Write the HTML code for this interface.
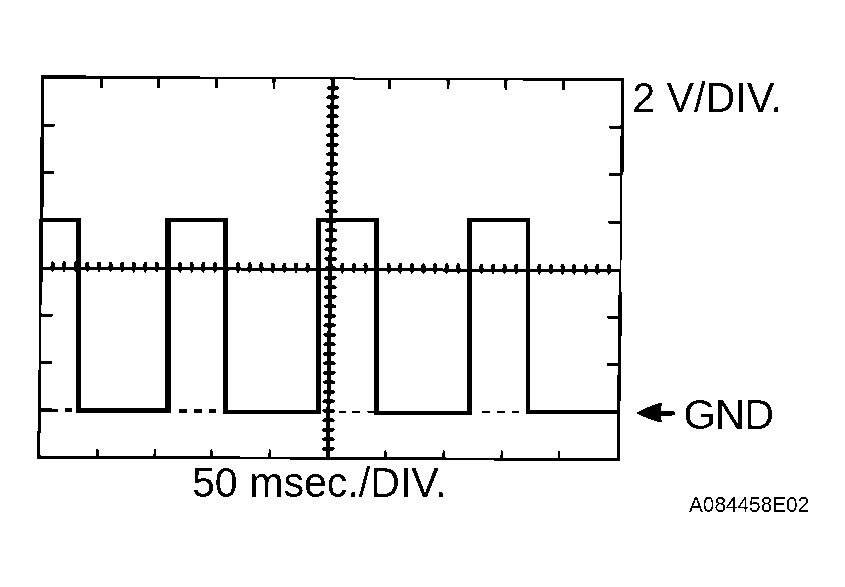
<!DOCTYPE html>
<html><head><meta charset="utf-8">
<style>
html,body{margin:0;padding:0;background:#fff;}
body{width:845px;height:587px;overflow:hidden;position:relative;font-family:"Liberation Sans",sans-serif;color:#000;}
svg{position:absolute;left:0;top:0;will-change:transform;}
.t{position:absolute;white-space:nowrap;line-height:1;}
</style></head><body>
<svg width="845" height="587" viewBox="0 0 845 587">
<defs><filter id="bw" x="0" y="0" width="845" height="587" filterUnits="userSpaceOnUse" color-interpolation-filters="sRGB"><feComponentTransfer><feFuncA type="discrete" tableValues="0 1"/></feComponentTransfer></filter></defs>
<g filter="url(#bw)">
<g transform="matrix(1 0.0046 -0.0105 1 43 77)">
<path d="M-1.5 -1.75 H85 L180 -1.0 H440 L500 -1.4 H581.0 V1.45 H500 L440 1.1 H180 L85 1.6 H-1.5 z" fill="#000"/>
<line x1="-1.4" y1="380.0" x2="581.0" y2="380.0" stroke="#000" stroke-width="2.8"/>
<path d="M-1.7 -1.5 V55 L-2.0 65 V210 L-1.25 216 V290 L-1.6 296 L-1.8 360 L-2.0 381.4 H1.25 V296 L0.9 290 V216 L1.65 210 L2.05 65 L1.3 55 V-1.5 z" fill="#000"/>
<path d="M578.1 0 V90 L578.5 96 V210 L577.6 216 V300 L577.2 306 V316 L577.7 322 V380.0 H580.8 V322 L581.2 316 V216 L580.4 210 V96 L581.95 90 L581.0 0 z" fill="#000"/>
<path d="M56.80 0 h3.4 l-0.4 10.5 h-2.4 z" fill="#000"/>
<path d="M56.70 380.0 h3.2 l-0.6 -8.6 h-1.8 z" fill="#000"/>
<path d="M113.70 0 h3.4 l-0.4 10.5 h-2.4 z" fill="#000"/>
<path d="M114.10 380.0 h3.2 l-0.6 -8.6 h-1.8 z" fill="#000"/>
<path d="M171.70 0 h3.4 l-0.4 10.5 h-2.4 z" fill="#000"/>
<path d="M170.70 380.0 h3.2 l-0.6 -8.6 h-1.8 z" fill="#000"/>
<path d="M229.30 0 h3.4 l-0.4 10.5 h-2.4 z" fill="#000"/>
<path d="M229.00 380.0 h3.2 l-0.6 -8.6 h-1.8 z" fill="#000"/>
<path d="M345.00 0 h3.4 l-0.4 10.5 h-2.4 z" fill="#000"/>
<path d="M344.70 380.0 h3.2 l-0.6 -8.6 h-1.8 z" fill="#000"/>
<path d="M403.40 0 h3.4 l-0.4 10.5 h-2.4 z" fill="#000"/>
<path d="M402.90 380.0 h3.2 l-0.6 -8.6 h-1.8 z" fill="#000"/>
<path d="M461.10 0 h3.4 l-0.4 10.5 h-2.4 z" fill="#000"/>
<path d="M461.10 380.0 h3.2 l-0.6 -8.6 h-1.8 z" fill="#000"/>
<path d="M518.90 0 h3.4 l-0.4 10.5 h-2.4 z" fill="#000"/>
<path d="M518.40 380.0 h3.2 l-0.6 -8.6 h-1.8 z" fill="#000"/>
<line x1="0" y1="48.10" x2="12" y2="48.10" stroke="#000" stroke-width="2.6"/>
<line x1="579.5" y1="47.50" x2="567.0" y2="47.50" stroke="#000" stroke-width="2.6"/>
<line x1="0" y1="95.60" x2="12" y2="95.60" stroke="#000" stroke-width="2.6"/>
<line x1="579.5" y1="95.00" x2="567.0" y2="95.00" stroke="#000" stroke-width="2.6"/>
<line x1="0" y1="143.10" x2="12" y2="143.10" stroke="#000" stroke-width="2.6"/>
<line x1="579.5" y1="142.50" x2="567.0" y2="142.50" stroke="#000" stroke-width="2.6"/>
<line x1="0" y1="238.10" x2="12" y2="238.10" stroke="#000" stroke-width="2.6"/>
<line x1="579.5" y1="237.50" x2="567.0" y2="237.50" stroke="#000" stroke-width="2.6"/>
<line x1="0" y1="285.60" x2="12" y2="285.60" stroke="#000" stroke-width="2.6"/>
<line x1="579.5" y1="285.00" x2="567.0" y2="285.00" stroke="#000" stroke-width="2.6"/>
<line x1="0" y1="333.10" x2="12" y2="333.10" stroke="#000" stroke-width="2.6"/>
<line x1="579.5" y1="332.50" x2="567.0" y2="332.50" stroke="#000" stroke-width="2.6"/>
<line x1="289.75" y1="0" x2="288.75" y2="380.0" stroke="#000" stroke-width="3.8"/>
<line x1="0" y1="190.90" x2="579.5" y2="191.30" stroke="#000" stroke-width="3"/>
<path d="M283.33 9.50 l1.9 -1.9 h9.6 l1.9 1.9 l-1.9 1.9 h-9.6 z" fill="#000"/>
<path d="M283.30 19.00 l1.9 -1.9 h9.6 l1.9 1.9 l-1.9 1.9 h-9.6 z" fill="#000"/>
<path d="M283.28 28.50 l1.9 -1.9 h9.6 l1.9 1.9 l-1.9 1.9 h-9.6 z" fill="#000"/>
<path d="M283.25 38.00 l1.9 -1.9 h9.6 l1.9 1.9 l-1.9 1.9 h-9.6 z" fill="#000"/>
<path d="M283.23 47.50 l1.9 -1.9 h9.6 l1.9 1.9 l-1.9 1.9 h-9.6 z" fill="#000"/>
<path d="M283.20 57.00 l1.9 -1.9 h9.6 l1.9 1.9 l-1.9 1.9 h-9.6 z" fill="#000"/>
<path d="M283.18 66.50 l1.9 -1.9 h9.6 l1.9 1.9 l-1.9 1.9 h-9.6 z" fill="#000"/>
<path d="M283.15 76.00 l1.9 -1.9 h9.6 l1.9 1.9 l-1.9 1.9 h-9.6 z" fill="#000"/>
<path d="M283.12 85.50 l1.9 -1.9 h9.6 l1.9 1.9 l-1.9 1.9 h-9.6 z" fill="#000"/>
<path d="M283.10 95.00 l1.9 -1.9 h9.6 l1.9 1.9 l-1.9 1.9 h-9.6 z" fill="#000"/>
<path d="M283.08 104.50 l1.9 -1.9 h9.6 l1.9 1.9 l-1.9 1.9 h-9.6 z" fill="#000"/>
<path d="M283.05 114.00 l1.9 -1.9 h9.6 l1.9 1.9 l-1.9 1.9 h-9.6 z" fill="#000"/>
<path d="M283.03 123.50 l1.9 -1.9 h9.6 l1.9 1.9 l-1.9 1.9 h-9.6 z" fill="#000"/>
<path d="M283.00 133.00 l1.9 -1.9 h9.6 l1.9 1.9 l-1.9 1.9 h-9.6 z" fill="#000"/>
<path d="M282.98 142.50 l1.9 -1.9 h9.6 l1.9 1.9 l-1.9 1.9 h-9.6 z" fill="#000"/>
<path d="M282.95 152.00 l1.9 -1.9 h9.6 l1.9 1.9 l-1.9 1.9 h-9.6 z" fill="#000"/>
<path d="M282.93 161.50 l1.9 -1.9 h9.6 l1.9 1.9 l-1.9 1.9 h-9.6 z" fill="#000"/>
<path d="M282.90 171.00 l1.9 -1.9 h9.6 l1.9 1.9 l-1.9 1.9 h-9.6 z" fill="#000"/>
<path d="M282.88 180.50 l1.9 -1.9 h9.6 l1.9 1.9 l-1.9 1.9 h-9.6 z" fill="#000"/>
<path d="M282.85 190.00 l1.9 -1.9 h9.6 l1.9 1.9 l-1.9 1.9 h-9.6 z" fill="#000"/>
<path d="M282.83 199.50 l1.9 -1.9 h9.6 l1.9 1.9 l-1.9 1.9 h-9.6 z" fill="#000"/>
<path d="M282.80 209.00 l1.9 -1.9 h9.6 l1.9 1.9 l-1.9 1.9 h-9.6 z" fill="#000"/>
<path d="M282.78 218.50 l1.9 -1.9 h9.6 l1.9 1.9 l-1.9 1.9 h-9.6 z" fill="#000"/>
<path d="M282.75 228.00 l1.9 -1.9 h9.6 l1.9 1.9 l-1.9 1.9 h-9.6 z" fill="#000"/>
<path d="M282.73 237.50 l1.9 -1.9 h9.6 l1.9 1.9 l-1.9 1.9 h-9.6 z" fill="#000"/>
<path d="M282.70 247.00 l1.9 -1.9 h9.6 l1.9 1.9 l-1.9 1.9 h-9.6 z" fill="#000"/>
<path d="M282.68 256.50 l1.9 -1.9 h9.6 l1.9 1.9 l-1.9 1.9 h-9.6 z" fill="#000"/>
<path d="M282.65 266.00 l1.9 -1.9 h9.6 l1.9 1.9 l-1.9 1.9 h-9.6 z" fill="#000"/>
<path d="M282.62 275.50 l1.9 -1.9 h9.6 l1.9 1.9 l-1.9 1.9 h-9.6 z" fill="#000"/>
<path d="M282.60 285.00 l1.9 -1.9 h9.6 l1.9 1.9 l-1.9 1.9 h-9.6 z" fill="#000"/>
<path d="M282.58 294.50 l1.9 -1.9 h9.6 l1.9 1.9 l-1.9 1.9 h-9.6 z" fill="#000"/>
<path d="M282.55 304.00 l1.9 -1.9 h9.6 l1.9 1.9 l-1.9 1.9 h-9.6 z" fill="#000"/>
<path d="M282.53 313.50 l1.9 -1.9 h9.6 l1.9 1.9 l-1.9 1.9 h-9.6 z" fill="#000"/>
<path d="M282.50 323.00 l1.9 -1.9 h9.6 l1.9 1.9 l-1.9 1.9 h-9.6 z" fill="#000"/>
<path d="M282.48 332.50 l1.9 -1.9 h9.6 l1.9 1.9 l-1.9 1.9 h-9.6 z" fill="#000"/>
<path d="M282.45 342.00 l1.9 -1.9 h9.6 l1.9 1.9 l-1.9 1.9 h-9.6 z" fill="#000"/>
<path d="M282.43 351.50 l1.9 -1.9 h9.6 l1.9 1.9 l-1.9 1.9 h-9.6 z" fill="#000"/>
<path d="M282.40 361.00 l1.9 -1.9 h9.6 l1.9 1.9 l-1.9 1.9 h-9.6 z" fill="#000"/>
<path d="M282.38 370.50 l1.9 -1.9 h9.6 l1.9 1.9 l-1.9 1.9 h-9.6 z" fill="#000"/>
<path d="M10.29 184.41 h2.6 l0.7 2.2 v5.6 l-2 3.2 l-2 -3.2 v-5.6 z" fill="#000"/>
<path d="M21.88 184.42 h2.6 l0.7 2.2 v5.6 l-2 3.2 l-2 -3.2 v-5.6 z" fill="#000"/>
<path d="M33.47 184.42 h2.6 l0.7 2.2 v5.6 l-2 3.2 l-2 -3.2 v-5.6 z" fill="#000"/>
<path d="M45.06 184.43 h2.6 l0.7 2.2 v5.6 l-2 3.2 l-2 -3.2 v-5.6 z" fill="#000"/>
<path d="M56.65 184.44 h2.6 l0.7 2.2 v5.6 l-2 3.2 l-2 -3.2 v-5.6 z" fill="#000"/>
<path d="M68.24 184.45 h2.6 l0.7 2.2 v5.6 l-2 3.2 l-2 -3.2 v-5.6 z" fill="#000"/>
<path d="M79.83 184.46 h2.6 l0.7 2.2 v5.6 l-2 3.2 l-2 -3.2 v-5.6 z" fill="#000"/>
<path d="M91.42 184.46 h2.6 l0.7 2.2 v5.6 l-2 3.2 l-2 -3.2 v-5.6 z" fill="#000"/>
<path d="M103.01 184.47 h2.6 l0.7 2.2 v5.6 l-2 3.2 l-2 -3.2 v-5.6 z" fill="#000"/>
<path d="M114.60 184.48 h2.6 l0.7 2.2 v5.6 l-2 3.2 l-2 -3.2 v-5.6 z" fill="#000"/>
<path d="M126.19 184.49 h2.6 l0.7 2.2 v5.6 l-2 3.2 l-2 -3.2 v-5.6 z" fill="#000"/>
<path d="M137.78 184.50 h2.6 l0.7 2.2 v5.6 l-2 3.2 l-2 -3.2 v-5.6 z" fill="#000"/>
<path d="M149.37 184.50 h2.6 l0.7 2.2 v5.6 l-2 3.2 l-2 -3.2 v-5.6 z" fill="#000"/>
<path d="M160.96 184.51 h2.6 l0.7 2.2 v5.6 l-2 3.2 l-2 -3.2 v-5.6 z" fill="#000"/>
<path d="M172.55 184.52 h2.6 l0.7 2.2 v5.6 l-2 3.2 l-2 -3.2 v-5.6 z" fill="#000"/>
<path d="M184.14 184.53 h2.6 l0.7 2.2 v5.6 l-2 3.2 l-2 -3.2 v-5.6 z" fill="#000"/>
<path d="M195.73 184.54 h2.6 l0.7 2.2 v5.6 l-2 3.2 l-2 -3.2 v-5.6 z" fill="#000"/>
<path d="M207.32 184.54 h2.6 l0.7 2.2 v5.6 l-2 3.2 l-2 -3.2 v-5.6 z" fill="#000"/>
<path d="M218.91 184.55 h2.6 l0.7 2.2 v5.6 l-2 3.2 l-2 -3.2 v-5.6 z" fill="#000"/>
<path d="M230.50 184.56 h2.6 l0.7 2.2 v5.6 l-2 3.2 l-2 -3.2 v-5.6 z" fill="#000"/>
<path d="M242.09 184.57 h2.6 l0.7 2.2 v5.6 l-2 3.2 l-2 -3.2 v-5.6 z" fill="#000"/>
<path d="M253.68 184.58 h2.6 l0.7 2.2 v5.6 l-2 3.2 l-2 -3.2 v-5.6 z" fill="#000"/>
<path d="M265.27 184.58 h2.6 l0.7 2.2 v5.6 l-2 3.2 l-2 -3.2 v-5.6 z" fill="#000"/>
<path d="M276.86 184.59 h2.6 l0.7 2.2 v5.6 l-2 3.2 l-2 -3.2 v-5.6 z" fill="#000"/>
<path d="M288.45 184.60 h2.6 l0.7 2.2 v5.6 l-2 3.2 l-2 -3.2 v-5.6 z" fill="#000"/>
<path d="M300.04 184.61 h2.6 l0.7 2.2 v5.6 l-2 3.2 l-2 -3.2 v-5.6 z" fill="#000"/>
<path d="M311.63 184.62 h2.6 l0.7 2.2 v5.6 l-2 3.2 l-2 -3.2 v-5.6 z" fill="#000"/>
<path d="M323.22 184.62 h2.6 l0.7 2.2 v5.6 l-2 3.2 l-2 -3.2 v-5.6 z" fill="#000"/>
<path d="M334.81 184.63 h2.6 l0.7 2.2 v5.6 l-2 3.2 l-2 -3.2 v-5.6 z" fill="#000"/>
<path d="M346.40 184.64 h2.6 l0.7 2.2 v5.6 l-2 3.2 l-2 -3.2 v-5.6 z" fill="#000"/>
<path d="M357.99 184.65 h2.6 l0.7 2.2 v5.6 l-2 3.2 l-2 -3.2 v-5.6 z" fill="#000"/>
<path d="M369.58 184.66 h2.6 l0.7 2.2 v5.6 l-2 3.2 l-2 -3.2 v-5.6 z" fill="#000"/>
<path d="M381.17 184.66 h2.6 l0.7 2.2 v5.6 l-2 3.2 l-2 -3.2 v-5.6 z" fill="#000"/>
<path d="M392.76 184.67 h2.6 l0.7 2.2 v5.6 l-2 3.2 l-2 -3.2 v-5.6 z" fill="#000"/>
<path d="M404.35 184.68 h2.6 l0.7 2.2 v5.6 l-2 3.2 l-2 -3.2 v-5.6 z" fill="#000"/>
<path d="M415.94 184.69 h2.6 l0.7 2.2 v5.6 l-2 3.2 l-2 -3.2 v-5.6 z" fill="#000"/>
<path d="M427.53 184.70 h2.6 l0.7 2.2 v5.6 l-2 3.2 l-2 -3.2 v-5.6 z" fill="#000"/>
<path d="M439.12 184.70 h2.6 l0.7 2.2 v5.6 l-2 3.2 l-2 -3.2 v-5.6 z" fill="#000"/>
<path d="M450.71 184.71 h2.6 l0.7 2.2 v5.6 l-2 3.2 l-2 -3.2 v-5.6 z" fill="#000"/>
<path d="M462.30 184.72 h2.6 l0.7 2.2 v5.6 l-2 3.2 l-2 -3.2 v-5.6 z" fill="#000"/>
<path d="M473.89 184.73 h2.6 l0.7 2.2 v5.6 l-2 3.2 l-2 -3.2 v-5.6 z" fill="#000"/>
<path d="M485.48 184.74 h2.6 l0.7 2.2 v5.6 l-2 3.2 l-2 -3.2 v-5.6 z" fill="#000"/>
<path d="M497.07 184.74 h2.6 l0.7 2.2 v5.6 l-2 3.2 l-2 -3.2 v-5.6 z" fill="#000"/>
<path d="M508.66 184.75 h2.6 l0.7 2.2 v5.6 l-2 3.2 l-2 -3.2 v-5.6 z" fill="#000"/>
<path d="M520.25 184.76 h2.6 l0.7 2.2 v5.6 l-2 3.2 l-2 -3.2 v-5.6 z" fill="#000"/>
<path d="M531.84 184.77 h2.6 l0.7 2.2 v5.6 l-2 3.2 l-2 -3.2 v-5.6 z" fill="#000"/>
<path d="M543.43 184.78 h2.6 l0.7 2.2 v5.6 l-2 3.2 l-2 -3.2 v-5.6 z" fill="#000"/>
<path d="M555.02 184.78 h2.6 l0.7 2.2 v5.6 l-2 3.2 l-2 -3.2 v-5.6 z" fill="#000"/>
<path d="M566.61 184.79 h2.6 l0.7 2.2 v5.6 l-2 3.2 l-2 -3.2 v-5.6 z" fill="#000"/>
</g>
<line x1="40" y1="410.2" x2="58" y2="410.2" stroke="#000" stroke-width="3.4"/>
<line x1="66.5" y1="410.1" x2="70.5" y2="410.1" stroke="#000" stroke-width="4" stroke-linecap="round"/>
<line x1="179" y1="411" x2="187" y2="411" stroke="#000" stroke-width="3.4"/>
<line x1="194" y1="411" x2="202" y2="411" stroke="#000" stroke-width="3.4"/>
<line x1="209.2" y1="411" x2="216.5" y2="411" stroke="#000" stroke-width="3.4"/>
<line x1="339" y1="411.6" x2="346" y2="411.6" stroke="#000" stroke-width="2"/>
<line x1="352" y1="411.6" x2="360" y2="411.6" stroke="#000" stroke-width="2"/>
<line x1="367.4" y1="411.6" x2="375" y2="411.6" stroke="#000" stroke-width="2"/>
<line x1="482.1" y1="412" x2="489.7" y2="412" stroke="#000" stroke-width="2.2"/>
<line x1="496.8" y1="412" x2="504.9" y2="412" stroke="#000" stroke-width="2.2"/>
<line x1="512" y1="412" x2="519" y2="412" stroke="#000" stroke-width="2.2"/>
<g fill="#000" shape-rendering="crispEdges"><rect x="41" y="218" width="40" height="4"/><rect x="165" y="218" width="63" height="4"/><rect x="316" y="218" width="63" height="4"/><rect x="467" y="218" width="63" height="4"/><rect x="76" y="408" width="95" height="5"/><rect x="223" y="410" width="98" height="4"/><rect x="374" y="411" width="98" height="4"/><rect x="526" y="410" width="94" height="4"/><rect x="76" y="218" width="5" height="195"/><rect x="165" y="218" width="6" height="195"/><rect x="223" y="218" width="5" height="196"/><rect x="316" y="218" width="5" height="196"/><rect x="374" y="218" width="5" height="197"/><rect x="467" y="218" width="5" height="197"/><rect x="526" y="218" width="4" height="196"/></g>
<path d="M636.4 413.1 Q647 407.0 660.6 402.6 L662.2 403.6 L660.4 410.9 H672.8 a2.4 2.35 0 0 1 0 4.7 H660.4 L662 421.6 L660.6 422.6 Q647 419.0 636.4 413.1 Z" fill="#000"/>
<text transform="translate(632.2 111.9) scale(1.031 1.04)" font-family="Liberation Sans, sans-serif" font-size="40">2 V/DIV.</text>
<text transform="translate(683.6 428.9) scale(1.035 1.04)" letter-spacing="-0.7" font-family="Liberation Sans, sans-serif" font-size="40">GND</text>
<text transform="translate(192.0 497.3) scale(1.028 1.04)" font-family="Liberation Sans, sans-serif" font-size="40">50 msec./DIV.</text>
<text transform="translate(689 511.9) scale(1 1.05)" font-family="Liberation Sans, sans-serif" font-size="20.8">A084458E02</text>
</g>
</svg>
</body></html>
